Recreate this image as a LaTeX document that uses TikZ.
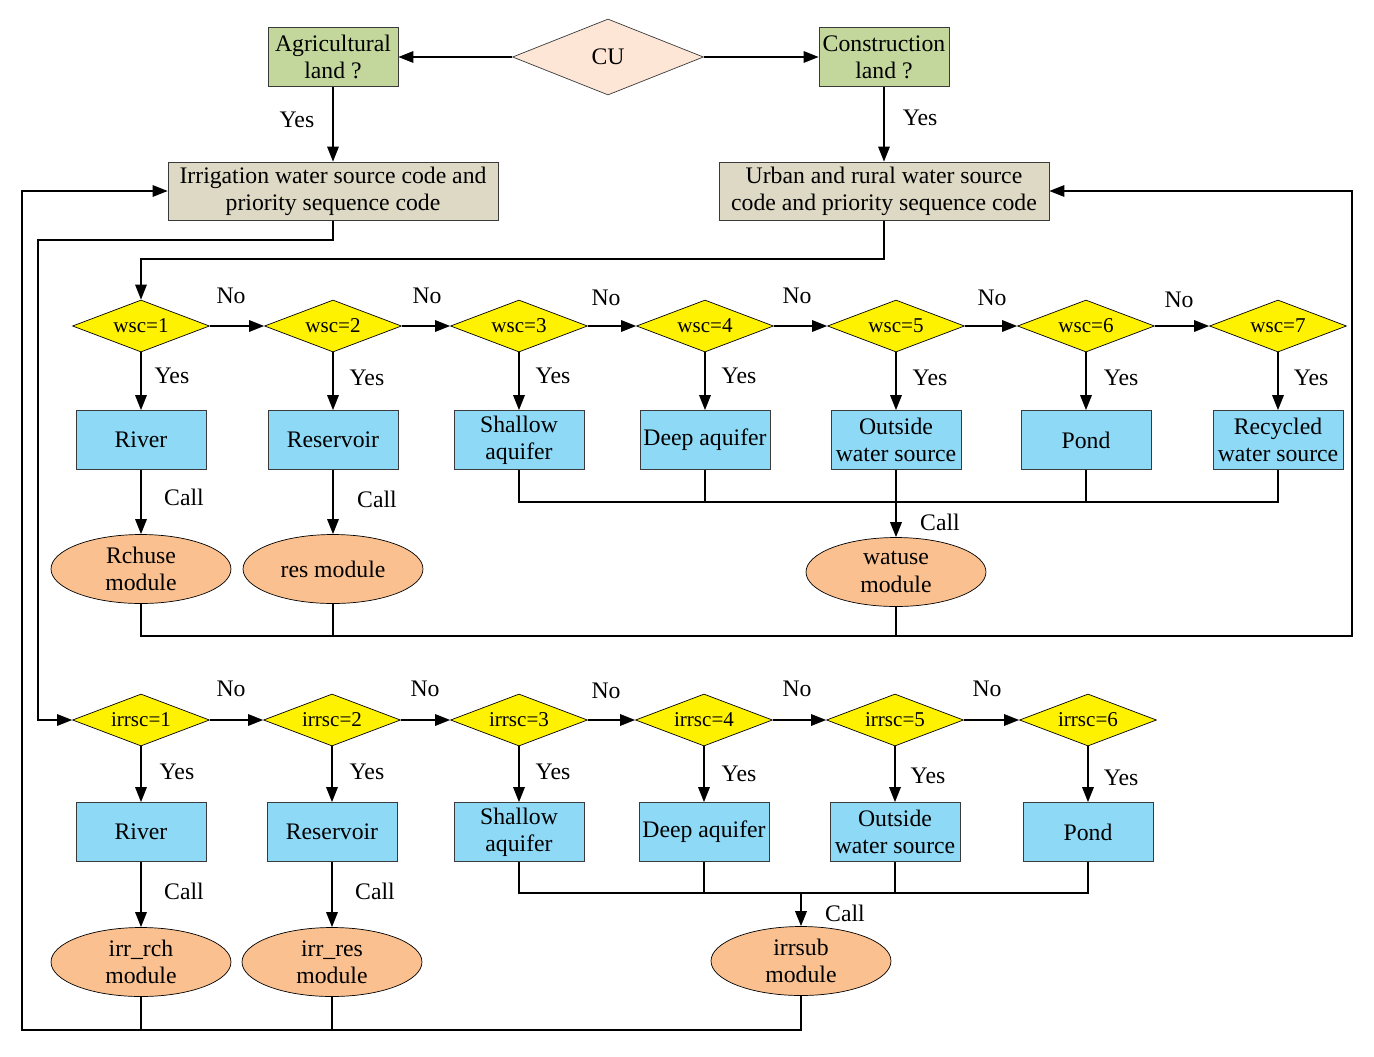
\documentclass[tikz,border=0pt]{standalone}
\usepackage{fontspec}
\setmainfont{Liberation Serif}
\usepackage{xcolor}
\usepackage{tikz}
\usetikzlibrary{shapes.geometric,arrows.meta}
\definecolor{cupeach}{HTML}{FDE6D6}
\definecolor{landgreen}{HTML}{C3D69B}
\definecolor{codetan}{HTML}{DDD9C4}
\definecolor{sourceblue}{HTML}{8DD9F6}
\definecolor{moduleorange}{HTML}{FAC08F}
\definecolor{edgegray}{HTML}{3A3A3A}
\tikzstyle{cu node}=[fill=cupeach, draw=edgegray, shape=diamond, aspect=2.5, minimum width=3.82cm, minimum height=1.52cm, inner sep=0pt]
\tikzstyle{land node}=[fill=landgreen, draw=edgegray, shape=rectangle, minimum width=2.6cm, minimum height=1.18cm, inner sep=1pt, align=center]
\tikzstyle{code node}=[fill=codetan, draw=edgegray, shape=rectangle, minimum width=6.6cm, minimum height=1.16cm, inner sep=1pt, align=center]
\tikzstyle{choice node}=[fill=yellow, draw=black, shape=diamond, aspect=2.6, minimum width=2.74cm, minimum height=1.04cm, inner sep=0pt, font=\fontsize{12}{13}\selectfont]
\tikzstyle{source node}=[fill=sourceblue, draw=edgegray, shape=rectangle, minimum width=2.6cm, minimum height=1.18cm, inner sep=1pt, align=center]
\tikzstyle{module node}=[fill=moduleorange, draw=black, shape=ellipse, minimum width=3.6cm, minimum height=1.38cm, inner sep=0pt, align=center]
\tikzstyle{tag}=[inner sep=0pt]
\tikzstyle{flow}=[-{Triangle[length=3mm,width=2.3mm]}, line width=0.8pt]
\tikzstyle{wire}=[line width=0.8pt]
\pgfdeclarelayer{nodelayer}
\pgfdeclarelayer{edgelayer}
\pgfsetlayers{edgelayer,nodelayer,main}
\begin{document}
\begin{tikzpicture}[x=0.02cm, y=-0.02cm, font=\fontsize{13.5}{15.5}\selectfont]
	\useasboundingbox (0, 0) rectangle (1374, 1056);
	\begin{pgfonlayer}{nodelayer}
		\node [style=cu node] (cu) at (608, 57) {CU};
		\node [style=land node] (agri) at (333, 57) {Agricultural\\land ?};
		\node [style=land node] (cons) at (884, 57) {Construction\\land ?};
		\node [style=code node] (irr) at (333, 191) {Irrigation water source code and\\priority sequence code};
		\node [style=code node] (urb) at (884, 191) {Urban and rural water source\\code and priority sequence code};
		% urban and rural row
		\node [style=choice node] (w1) at (141, 326) {wsc=1};
		\node [style=choice node] (w2) at (333, 326) {wsc=2};
		\node [style=choice node] (w3) at (519, 326) {wsc=3};
		\node [style=choice node] (w4) at (705, 326) {wsc=4};
		\node [style=choice node] (w5) at (896, 326) {wsc=5};
		\node [style=choice node] (w6) at (1086, 326) {wsc=6};
		\node [style=choice node] (w7) at (1278, 326) {wsc=7};
		\node [style=source node] (s1) at (141, 440) {River};
		\node [style=source node] (s2) at (333, 440) {Reservoir};
		\node [style=source node] (s3) at (519, 440) {Shallow\\aquifer};
		\node [style=source node] (s4) at (705, 440) {Deep aquifer};
		\node [style=source node] (s5) at (896, 440) {Outside\\water source};
		\node [style=source node] (s6) at (1086, 440) {Pond};
		\node [style=source node] (s7) at (1278, 440) {Recycled\\water source};
		\node [style=module node] (m1) at (141, 569) {Rchuse\\module};
		\node [style=module node] (m2) at (333, 569) {res module};
		\node [style=module node] (m3) at (896, 572) {watuse\\module};
		% irrigation row
		\node [style=choice node] (i1) at (141, 720) {irrsc=1};
		\node [style=choice node] (i2) at (332, 720) {irrsc=2};
		\node [style=choice node] (i3) at (519, 720) {irrsc=3};
		\node [style=choice node] (i4) at (704, 720) {irrsc=4};
		\node [style=choice node] (i5) at (895, 720) {irrsc=5};
		\node [style=choice node] (i6) at (1088, 720) {irrsc=6};
		\node [style=source node] (t1) at (141, 832) {River};
		\node [style=source node] (t2) at (332, 832) {Reservoir};
		\node [style=source node] (t3) at (519, 832) {Shallow\\aquifer};
		\node [style=source node] (t4) at (704, 832) {Deep aquifer};
		\node [style=source node] (t5) at (895, 832) {Outside\\water source};
		\node [style=source node] (t6) at (1088, 832) {Pond};
		\node [style=module node] (n1) at (141, 962) {irr\_rch\\module};
		\node [style=module node] (n2) at (332, 962) {irr\_res\\module};
		\node [style=module node] (n3) at (801, 961) {irrsub\\module};
		% labels
		\node [style=tag] (ya) at (297, 120) {Yes};
		\node [style=tag] (yc) at (920, 118) {Yes};
		\node [style=tag] (nw1) at (231, 296) {No};
		\node [style=tag] (nw2) at (427, 296) {No};
		\node [style=tag] (nw3) at (606, 298) {No};
		\node [style=tag] (nw4) at (797, 296) {No};
		\node [style=tag] (nw5) at (992, 298) {No};
		\node [style=tag] (nw6) at (1179, 300) {No};
		\node [style=tag] (yw1) at (172, 376) {Yes};
		\node [style=tag] (yw2) at (367, 378) {Yes};
		\node [style=tag] (yw3) at (553, 376) {Yes};
		\node [style=tag] (yw4) at (739, 376) {Yes};
		\node [style=tag] (yw5) at (930, 378) {Yes};
		\node [style=tag] (yw6) at (1121, 378) {Yes};
		\node [style=tag] (yw7) at (1311, 378) {Yes};
		\node [style=tag] (cw1) at (184, 497) {Call};
		\node [style=tag] (cw2) at (377, 499) {Call};
		\node [style=tag] (cw3) at (940, 522) {Call};
		\node [style=tag] (ni1) at (231, 689) {No};
		\node [style=tag] (ni2) at (425, 689) {No};
		\node [style=tag] (ni3) at (606, 691) {No};
		\node [style=tag] (ni4) at (797, 689) {No};
		\node [style=tag] (ni5) at (987, 689) {No};
		\node [style=tag] (yi1) at (177, 772) {Yes};
		\node [style=tag] (yi2) at (367, 772) {Yes};
		\node [style=tag] (yi3) at (553, 772) {Yes};
		\node [style=tag] (yi4) at (739, 774) {Yes};
		\node [style=tag] (yi5) at (928, 776) {Yes};
		\node [style=tag] (yi6) at (1121, 778) {Yes};
		\node [style=tag] (ci1) at (184, 891) {Call};
		\node [style=tag] (ci2) at (375, 891) {Call};
		\node [style=tag] (ci3) at (845, 913) {Call};
	\end{pgfonlayer}
	\begin{pgfonlayer}{edgelayer}
		\coordinate (c1) at (38, 240);
		\coordinate (c2) at (141, 259);
		\coordinate (c3) at (1352, 636);
		\coordinate (c4) at (22, 1030);
		\coordinate (c5) at (896, 502);
		\coordinate (c6) at (801, 893);
		\draw [style=flow] (cu) to (agri);
		\draw [style=flow] (cu) to (cons);
		\draw [style=flow] (agri) to (irr);
		\draw [style=flow] (cons) to (urb);
		\draw [style=flow] (irr.south) |- (c1) |- (i1.west);
		\draw [style=flow] (urb.south) |- (c2) -- (w1);
		% urban and rural row
		\draw [style=flow] (w1) to (w2);
		\draw [style=flow] (w2) to (w3);
		\draw [style=flow] (w3) to (w4);
		\draw [style=flow] (w4) to (w5);
		\draw [style=flow] (w5) to (w6);
		\draw [style=flow] (w6) to (w7);
		\draw [style=flow] (w1) to (s1);
		\draw [style=flow] (w2) to (s2);
		\draw [style=flow] (w3) to (s3);
		\draw [style=flow] (w4) to (s4);
		\draw [style=flow] (w5) to (s5);
		\draw [style=flow] (w6) to (s6);
		\draw [style=flow] (w7) to (s7);
		\draw [style=flow] (s1) to (m1);
		\draw [style=flow] (s2) to (m2);
		\draw [style=wire] (s3.south) |- (c5) -| (s7.south);
		\draw [style=wire] (s4.south) to (s4.south |- c5);
		\draw [style=wire] (s6.south) to (s6.south |- c5);
		\draw [style=flow, line width=1.1pt] (s5) to (m3);
		\draw [style=flow] (m1.south) |- (c3) |- (urb.east);
		\draw [style=wire] (m2.south) to (m2.south |- c3);
		\draw [style=wire] (m3.south) to (m3.south |- c3);
		% irrigation row
		\draw [style=flow] (i1) to (i2);
		\draw [style=flow] (i2) to (i3);
		\draw [style=flow] (i3) to (i4);
		\draw [style=flow] (i4) to (i5);
		\draw [style=flow] (i5) to (i6);
		\draw [style=flow] (i1) to (t1);
		\draw [style=flow] (i2) to (t2);
		\draw [style=flow] (i3) to (t3);
		\draw [style=flow] (i4) to (t4);
		\draw [style=flow] (i5) to (t5);
		\draw [style=flow] (i6) to (t6);
		\draw [style=flow] (t1) to (n1);
		\draw [style=flow] (t2) to (n2);
		\draw [style=wire] (t3.south) |- (c6) -| (t6.south);
		\draw [style=wire] (t4.south) to (t4.south |- c6);
		\draw [style=wire] (t5.south) to (t5.south |- c6);
		\draw [style=flow, line width=1.1pt] (c6) to (n3);
		\draw [style=flow] (n3.south) |- (c4) |- (irr.west);
		\draw [style=wire] (n1.south) to (n1.south |- c4);
		\draw [style=wire] (n2.south) to (n2.south |- c4);
	\end{pgfonlayer}
\end{tikzpicture}
\end{document}
